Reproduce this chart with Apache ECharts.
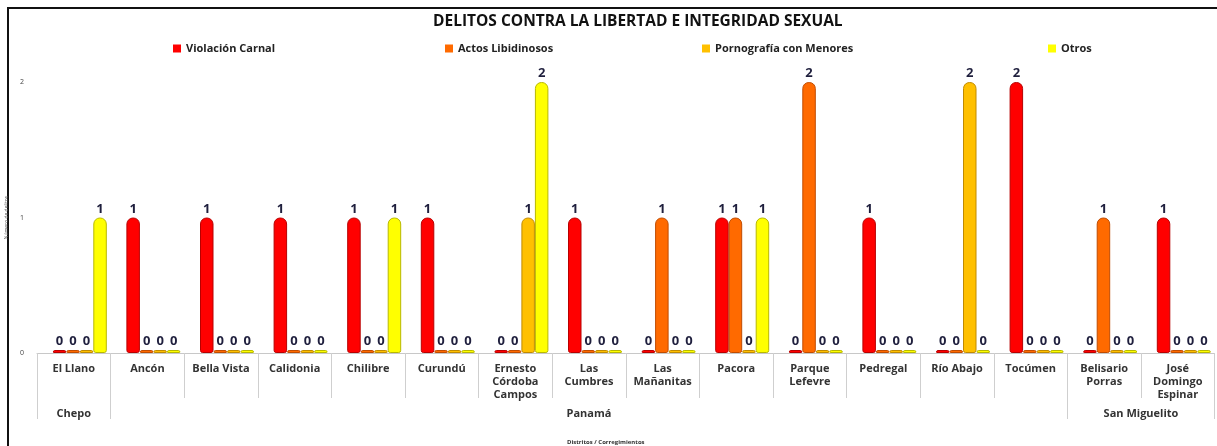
<!DOCTYPE html>
<html>
<head>
<meta charset="utf-8">
<script src="https://cdn.jsdelivr.net/npm/echarts@6/dist/echarts.min.js"></script>
<style>
  html, body { margin: 0; padding: 0; background: #fff; }
  #chart { width: 1217px; height: 446px; }
</style>
</head>
<body>
<div id="chart"></div>
<script>
// corregimientos (first axis level)
const categories = [
  'El Llano', 'Ancón', 'Bella Vista', 'Calidonia', 'Chilibre', 'Curundú',
  'Ernesto\nCórdoba\nCampos', 'Las\nCumbres', 'Las\nMañanitas', 'Pacora',
  'Parque\nLefevre', 'Pedregal', 'Río Abajo', 'Tocúmen',
  'Belisario\nPorras', 'José\nDomingo\nEspinar'
];
// distritos (second axis level) and how many corregimientos each spans
const districts = ['Chepo', 'Panamá', 'San Miguelito'];
const districtSizes = [1, 13, 2];

const seriesNames = ['Violación Carnal', 'Actos Libidinosos', 'Pornografía con Menores', 'Otros'];
const violacion = [0, 1, 1, 1, 1, 1, 0, 1, 0, 1, 0, 1, 0, 2, 0, 1];
const actos     = [0, 0, 0, 0, 0, 0, 0, 0, 1, 1, 2, 0, 0, 0, 1, 0];
const porno     = [0, 0, 0, 0, 0, 0, 1, 0, 0, 0, 0, 0, 2, 0, 0, 0];
const otros     = [1, 0, 0, 0, 1, 0, 2, 0, 0, 1, 0, 0, 0, 0, 0, 0];
const yTicks = [0, 1, 2];

const colors = ['#ff0000', '#ff6a00', '#ffc000', '#ffff00'];
const edges  = ['#b80000', '#c04c00', '#c08a00', '#b8b800'];

// district label centres and boundaries in category units
const bounds = [0];
districtSizes.forEach(n => bounds.push(bounds[bounds.length - 1] + n));
const centres = districtSizes.map((n, i) => bounds[i] + n / 2);

const gridW = 1177.6;
const chart = echarts.init(document.getElementById('chart'));

const option = {
  animation: false,
  textStyle: { fontFamily: 'Open Sans' },
  title: {
    text: 'DELITOS CONTRA LA LIBERTAD E INTEGRIDAD SEXUAL',
    left: 428,
    top: 9,
    textStyle: { fontSize: 15.5, fontWeight: 'bold', color: '#111', fontFamily: 'Open Sans' }
  },
  legend: [168, 440, 697, 1043].map((x, i) => ({
    data: [seriesNames[i]],
    left: x,
    top: 38,
    itemWidth: 8,
    itemHeight: 8,
    itemGap: 4,
    icon: 'rect',
    itemStyle: { borderWidth: 0 },
    textStyle: { fontSize: 11, fontWeight: 'bold', color: '#222' }
  })),
  graphic: [{
    type: 'rect',
    shape: { x: 8, y: 8, width: 1216, height: 450 },
    style: { fill: 'none', stroke: '#111', lineWidth: 2 },
    silent: true
  }],
  grid: [
    { left: 37, top: 82, width: gridW, bottom: 93, outerBoundsMode: 'none' },
    { left: 43, top: 82, width: gridW, bottom: 93, outerBoundsMode: 'none' }
  ],
  xAxis: [
    {
      type: 'category',
      gridIndex: 0,
      position: 'bottom',
      data: categories,
      axisLine: { lineStyle: { color: '#c8c8c8' } },
      axisTick: { show: true, interval: 0, length: 45, lineStyle: { color: '#cfcfcf' } },
      axisLabel: {
        interval: 0, margin: 9, fontSize: 11, fontWeight: 'bold',
        color: '#333', lineHeight: 13
      }
    },
    {
      type: 'value',
      gridIndex: 0,
      position: 'bottom',
      min: 0,
      max: bounds[bounds.length - 1],
      splitLine: { show: false },
      axisLine: { show: false },
      axisTick: { show: true, customValues: bounds, length: 66, lineStyle: { color: '#cfcfcf' } },
      axisLabel: {
        customValues: centres,
        margin: 55,
        fontSize: 11,
        fontWeight: 'bold',
        color: '#333',
        formatter: v => districts[centres.indexOf(v)] || ''
      },
      name: 'Distritos / Corregimientos',
      nameLocation: 'middle',
      nameGap: 86,
      nameTextStyle: { fontSize: 6, fontWeight: 'bold', color: '#333', padding: [0, 40, 0, 0] }
    },
    {
      type: 'category',
      gridIndex: 1,
      data: categories,
      show: false
    }
  ],
  yAxis: [
    {
      type: 'value',
      gridIndex: 0,
      min: yTicks[0],
      max: yTicks[yTicks.length - 1],
      interval: 1,
      splitLine: { show: false },
      axisLine: { show: false },
      axisTick: { show: false },
      axisLabel: { fontSize: 7, color: '#444', margin: 13 },
      name: 'Número de delitos',
      nameLocation: 'middle',
      nameGap: 26,
      nameRotate: 90,
      nameTextStyle: { fontSize: 5, color: '#555' }
    },
    {
      type: 'value',
      gridIndex: 1,
      min: yTicks[0],
      max: yTicks[yTicks.length - 1],
      show: false
    }
  ],
  series: [violacion, actos, porno, otros].map((vals, i) => ({
    name: seriesNames[i],
    type: 'bar',
    xAxisIndex: 2,
    yAxisIndex: 1,
    barWidth: 13.5,
    barGap: '0%',
    barMinHeight: 3,
    itemStyle: {
      color: colors[i],
      borderColor: edges[i],
      borderWidth: 1,
      borderRadius: [6, 6, 2, 2]
    },
    label: {
      show: true,
      position: 'top',
      distance: 2,
      fontSize: 13,
      fontWeight: 'bold',
      color: '#1f1f3d'
    },
    data: vals
  }))
};

chart.setOption(option);
</script>
</body>
</html>
